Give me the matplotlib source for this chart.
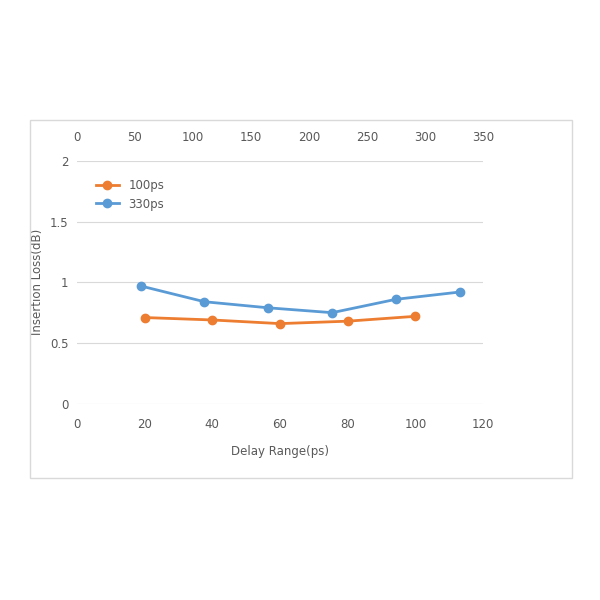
import matplotlib
matplotlib.use("Agg")
import matplotlib.pyplot as plt
from matplotlib.patches import Rectangle

x100 = [20, 40, 60, 80, 100]
y100 = [0.71, 0.69, 0.66, 0.68, 0.72]
x330 = [55, 110, 165, 220, 275, 330]
y330 = [0.97, 0.84, 0.79, 0.75, 0.86, 0.92]

fig = plt.figure(figsize=(6, 6), dpi=100)
fig.patches.append(Rectangle((30/600, 1-478/600), 542/600, 358/600, transform=fig.transFigure,
                             fill=False, edgecolor="#d9d9d9", lw=1))
ax = fig.add_axes([0.128, 0.327, 0.677, 0.405])
ax.set_xlim(0, 120); ax.set_ylim(0, 2)
ax.set_xticks(range(0, 121, 20)); ax.set_yticks([0, 0.5, 1, 1.5, 2])
ax.set_yticklabels(["0", "0.5", "1", "1.5", "2"])
ax.grid(axis="y", color="#d9d9d9", lw=0.8)
ax.set_axisbelow(True)
for s in ax.spines.values():
    s.set_visible(False)
ax.tick_params(length=0, labelsize=8.5, colors="#595959")
ax.tick_params(axis="x", pad=10)
ax.tick_params(axis="y", pad=6)
ax.set_xlabel("Delay Range(ps)", fontsize=8.5, color="#595959", labelpad=10)
ax.set_ylabel("Insertion Loss(dB)", fontsize=8.5, color="#595959")
l1, = ax.plot(x100, y100, color="#ed7d31", marker="o", ms=6, lw=2, label="100ps")

ax2 = ax.twiny()
ax2.set_xlim(0, 350)
ax2.set_xticks(range(0, 351, 50))
for s in ax2.spines.values():
    s.set_visible(False)
ax2.tick_params(length=0, labelsize=8.5, colors="#595959", pad=12)
l2, = ax2.plot(x330, y330, color="#5b9bd5", marker="o", ms=6, lw=2, label="330ps")

ax2.legend(handles=[l1, l2], loc="upper left", frameon=False, fontsize=8.5,
           labelcolor="#595959", bbox_to_anchor=(0.02, 0.97))
fig.savefig("out.png")
